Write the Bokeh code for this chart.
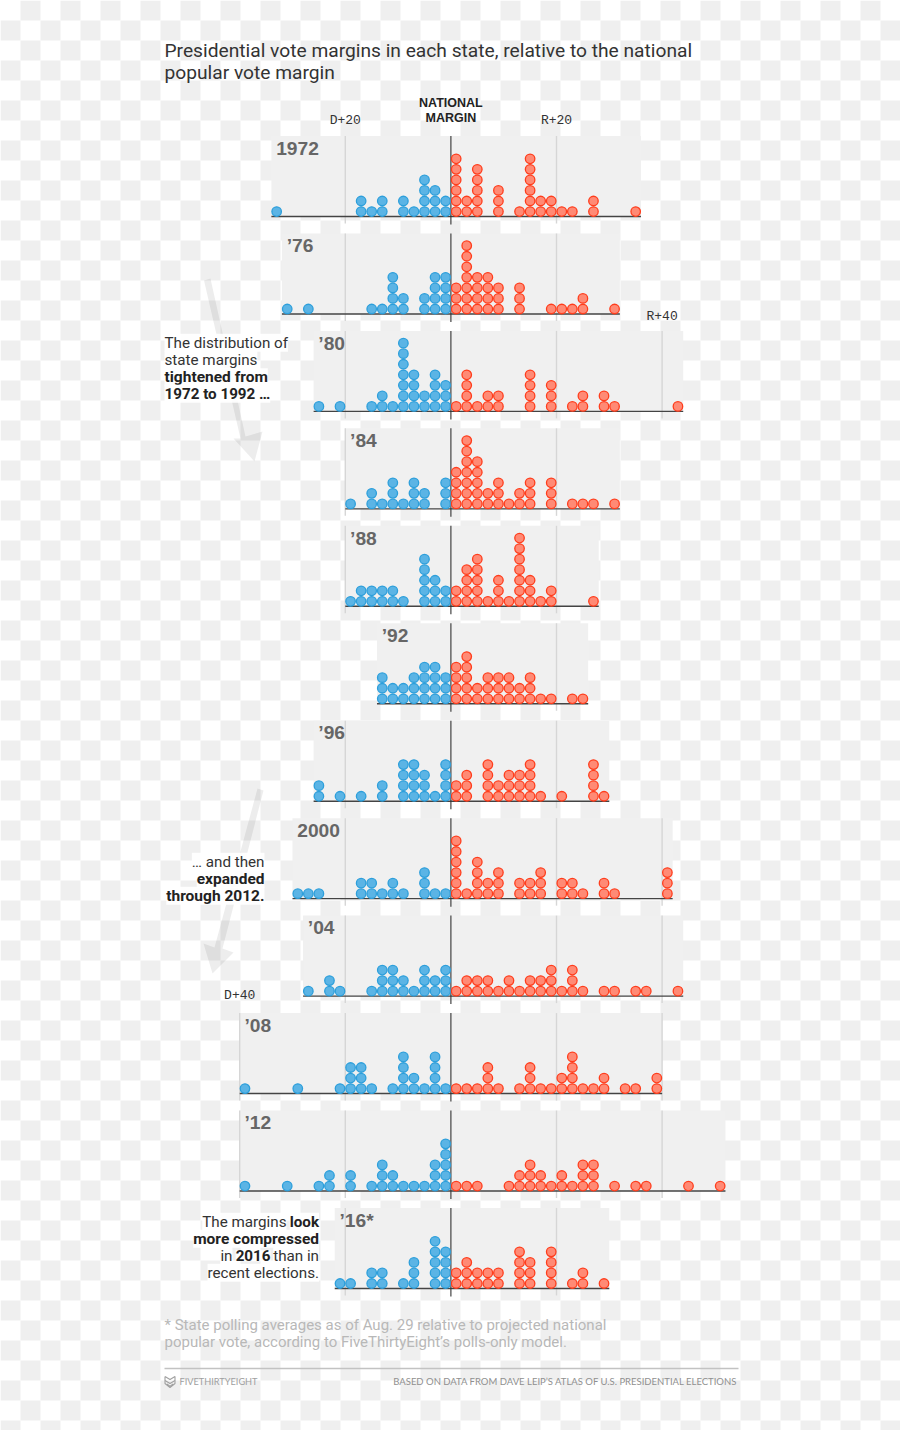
from bokeh.plotting import figure
from bokeh.models import Range1d
from bokeh.core.properties import value
from bokeh.embed import file_html
from bokeh.resources import INLINE

# stack heights per 2-point bin, index = bins away from the national margin
years = ["1972", "’76", "’80", "’84", "’88", "’92", "’96", "2000", "’04", "’08", "’12", "’16*"]
dem = [
    {0:2,1:3,2:4,3:1,4:2,6:2,7:1,8:2,16:1},
    {0:4,1:4,2:2,4:2,5:4,6:1,7:1,13:1,15:1},
    {0:3,1:4,2:2,3:4,4:7,5:1,6:2,7:1,10:1,12:1},
    {0:3,2:2,3:3,4:1,5:3,6:1,7:2,9:1},
    {0:2,1:3,2:5,4:1,5:2,6:2,7:2,8:2,9:1},
    {0:3,1:4,2:4,3:3,4:2,5:2,6:3},
    {0:4,1:1,2:3,3:4,4:4,6:2,8:1,10:1,12:2},
    {0:1,1:1,2:3,4:1,5:2,6:1,7:2,8:2,12:1,13:1,14:1},
    {0:3,1:2,2:3,3:1,4:2,5:3,6:3,7:1,10:1,11:2,13:1},
    {0:1,1:4,2:1,3:2,4:4,5:1,7:1,8:3,9:3,10:1,14:1,19:1},
    {0:5,1:3,2:1,3:1,4:1,5:2,6:3,7:1,9:2,11:2,12:1,15:1,19:1},
    {0:4,1:5,3:3,4:1,6:2,7:2,9:1,10:1},
]
rep = [
    {0:6,1:2,2:5,4:3,6:1,7:6,8:2,9:2,10:1,11:1,13:2,17:1},
    {0:3,1:7,2:4,3:4,4:3,6:3,9:1,10:1,11:1,12:2,15:1},
    {0:1,1:4,2:1,3:2,4:2,7:4,9:3,11:1,12:2,14:2,15:1,21:1},
    {0:4,1:7,2:5,3:2,4:3,5:1,6:2,7:3,9:3,11:1,12:1,13:1,15:1},
    {0:2,1:4,2:5,3:1,4:3,5:1,6:7,7:3,8:1,9:2,13:1},
    {0:4,1:5,2:2,3:3,4:3,5:3,6:2,7:3,8:1,9:1,11:1,12:1},
    {0:2,1:3,3:4,4:2,5:3,6:3,7:4,8:1,10:1,13:4,14:1},
    {0:6,1:1,2:4,3:2,4:3,6:2,7:2,8:3,10:2,11:2,12:1,14:2,15:1,20:3},
    {0:1,1:2,2:2,3:2,4:1,5:2,6:1,7:2,8:2,9:3,10:1,11:3,12:1,14:1,15:1,17:1,18:1,21:1},
    {0:1,1:1,2:1,3:3,4:1,6:1,7:3,8:1,9:1,10:2,11:4,12:1,13:1,14:2,16:1,17:1,19:2},
    {0:1,1:1,2:1,5:1,6:2,7:3,8:2,9:1,10:2,11:1,12:3,13:3,15:1,17:1,18:1,22:1,25:1},
    {0:2,1:3,2:2,3:2,4:2,6:4,7:3,9:4,11:1,12:2,14:1},
]
bin_width = 2
grid_values = [-40, -20, 20, 40]

W, H = 900, 1430
PX_PT = 5.28
X0 = 450.4
ROW = 10.55
FIRST_BASE = 216.0
STEP = 97.45

p = figure(width=W, height=H, output_backend="svg", toolbar_location=None,
           x_range=Range1d(0, W), y_range=Range1d(H, 0),
           x_axis_type=None, y_axis_type=None, min_border=0,
           background_fill_color="white", border_fill_color="white")
p.outline_line_color = None
p.grid.visible = False
p.extra_x_ranges["margin"] = Range1d((0 - X0) / PX_PT, (W - X0) / PX_PT)

# transparent-image checkerboard backdrop
cl, cr, ct, cb = [], [], [], []
for r in range(0, 72):
    for c in range(0, 45):
        if (r + c) % 2 == 1:
            cl.append(c * 20); cr.append(c * 20 + 20); ct.append(r * 20); cb.append(r * 20 + 20)
p.quad(left=cl, right=cr, top=ct, bottom=cb, fill_color="#efefef", line_color=None)


def txt(x, y, s, size, color, font="Roboto", style="normal", align="left", rng=None, bg=False):
    kw = {}
    if rng:
        kw["x_range_name"] = rng
    if bg:
        kw["background_fill_color"] = "white"
        kw["background_fill_alpha"] = 0.9
    p.text(x=[x], y=[y - 0.8], text=[s], text_font=value(font), text_font_size=f"{size}px",
           text_font_style=style, text_color=color, text_align=align, text_baseline="middle", **kw)


# arrows
arrow_a_x = [203.5, 210, 245, 262, 254, 233, 240]
arrow_a_y = [280, 278, 436, 431, 461, 438, 438]
arrow_b_x = [257, 263, 222, 233, 212, 203, 214]
arrow_b_y = [788, 790, 948, 952, 973, 943, 947]
p.patch(arrow_a_x, arrow_a_y, fill_color="#000000", fill_alpha=0.07, line_color=None)
p.patch(arrow_b_x, arrow_b_y, fill_color="#000000", fill_alpha=0.07, line_color=None)

for n, (year, d, r) in enumerate(zip(years, dem, rep)):
    base = FIRST_BASE + n * STEP
    left = -bin_width * (max(d) + 1)
    right = bin_width * (max(r) + 1)
    rname = f"y{n}"
    p.extra_y_ranges[rname] = Range1d((base - H) / ROW, base / ROW)
    top = base - 80.5
    p.quad(left=[left], right=[right], top=[top], bottom=[base], fill_color="#f0f0f0",
           line_color=None, x_range_name="margin")
    gv = [g for g in grid_values if left <= g <= right]
    p.segment(x0=gv, x1=gv, y0=[top] * len(gv), y1=[base + 7] * len(gv), line_color="#d6d6d6",
              line_width=1.4, x_range_name="margin")
    dx = [-(i + 0.5) * bin_width for i, c in d.items() for k in range(c)]
    dy = [k + 0.47 for i, c in d.items() for k in range(c)]
    rx = [(i + 0.5) * bin_width for i, c in r.items() for k in range(c)]
    ry = [k + 0.47 for i, c in r.items() for k in range(c)]
    p.segment(x0=[left], x1=[right], y0=[base], y1=[base], line_color="#444444", line_width=1.4,
              x_range_name="margin")
    p.segment(x0=[0], x1=[0], y0=[top], y1=[base + 8], line_color="#333333", line_width=1.1,
              x_range_name="margin")
    p.scatter(dx, dy, size=9.5, fill_color="#5bb4e5", line_color="#2d9fdb", line_width=1.3,
              x_range_name="margin", y_range_name=rname)
    p.scatter(rx, ry, size=9.5, fill_color="#ff8a75", line_color="#ff3d1c", line_width=1.3,
              x_range_name="margin", y_range_name=rname)
    txt(left + 0.9, base - 67.5, year, 19.2, "#666666", font="Liberation Sans", style="bold", rng="margin")

# axis labels
TICK = dict(font="Liberation Mono", align="center", rng="margin")
txt(-20, 120.5, "D+20", 13, "#333333", **TICK)
txt(20, 120.5, "R+20", 13, "#333333", **TICK)
txt(40, 316.5, "R+40", 13, "#333333", **TICK)
txt(-40, 995.5, "D+40", 13, "#333333", **TICK)
txt(0, 103.5, "NATIONAL", 12.5, "#222222", font="Liberation Sans", style="bold", align="center", rng="margin")
txt(0, 118, "MARGIN", 12.5, "#222222", font="Liberation Sans", style="bold", align="center", rng="margin")

# title
txt(164, 51.2, "Presidential vote margins in each state, relative to the national", 19.2, "#333333")
txt(164, 72.7, "popular vote margin", 19.2, "#333333")

# annotations
AN = 15.2
txt(164, 343, "The distribution of", AN, "#333333", bg=True)
txt(164, 360.5, "state margins", AN, "#333333", bg=True)
txt(164, 377.5, "tightened from", AN + 0.3, "#222222", style="bold", bg=True)
txt(164, 394, "1972 to 1992 …", AN, "#222222", style="bold", bg=True)
txt(264, 862, "… and then", AN, "#333333", align="right", bg=True)
txt(264, 879, "expanded", AN + 0.3, "#222222", style="bold", align="right", bg=True)
txt(264, 896, "through 2012.", AN + 0.3, "#222222", style="bold", align="right", bg=True)
txt(286, 1222, "The margins", AN, "#333333", align="right", bg=True)
txt(318.5, 1222, "look", AN, "#222222", style="bold", align="right", bg=True)
txt(318.5, 1239, "more compressed", AN + 0.3, "#222222", style="bold", align="right", bg=True)
txt(232, 1256, "in", AN, "#333333", align="right", bg=True)
txt(270, 1256, "2016", AN, "#222222", style="bold", align="right", bg=True)
txt(318.5, 1256, "than in", AN, "#333333", align="right", bg=True)
txt(318.5, 1273, "recent elections.", AN, "#333333", align="right", bg=True)

# footnote and footer
txt(164, 1325, "* State polling averages as of Aug. 29 relative to projected national", 15, "#b8b8b8")
txt(164, 1342, "popular vote, according to FiveThirtyEight’s polls-only model.", 15, "#b8b8b8")
p.segment(x0=[164], x1=[738], y0=[1368], y1=[1368], line_color="#c2c2c2", line_width=1.6)
txt(179, 1381.5, "FIVETHIRTYEIGHT", 9.2, "#a0a0a0", font="Lato")
txt(737, 1381.5, "BASED ON DATA FROM DAVE LEIP’S ATLAS OF U.S. PRESIDENTIAL ELECTIONS", 9.5, "#909090", font="Lato", align="right")
p.multi_line([[164.5, 169.5, 174.5, 174.5, 169.5, 164.5, 164.5], [164.5, 169.5, 174.5], [166.5, 169.5, 172.5]],
             [[1376, 1379, 1376, 1383, 1387, 1383, 1376], [1380, 1383, 1380], [1383.5, 1386, 1383.5]],
             line_color="#a0a0a0", line_width=1.1)

open("out.html", "w").write(file_html(p, INLINE))
